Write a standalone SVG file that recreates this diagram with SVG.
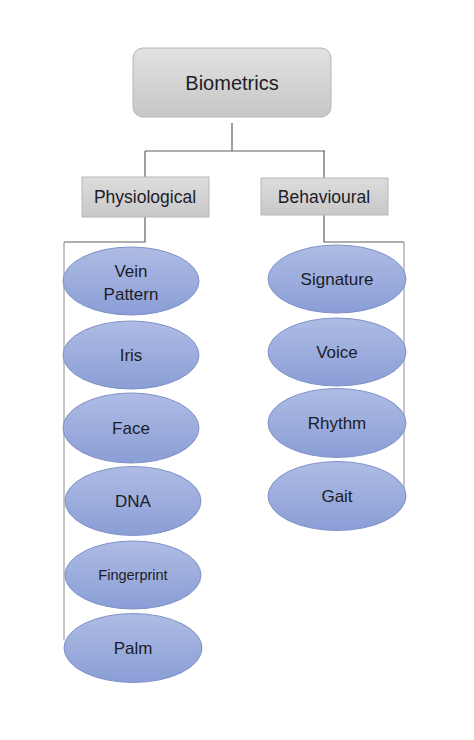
<svg xmlns="http://www.w3.org/2000/svg" width="474" height="740" viewBox="0 0 474 740">
<defs>
<linearGradient id="gRoot" x1="0" y1="0" x2="0" y2="1">
<stop offset="0" stop-color="#e2e2e2"/>
<stop offset="1" stop-color="#c6c6c6"/>
</linearGradient>
<linearGradient id="gCat" x1="0" y1="0" x2="0" y2="1">
<stop offset="0" stop-color="#dcdcdc"/>
<stop offset="1" stop-color="#c8c8c8"/>
</linearGradient>
<linearGradient id="gEll" x1="0" y1="0" x2="0" y2="1">
<stop offset="0" stop-color="#aebce4"/>
<stop offset="1" stop-color="#8a9ed6"/>
</linearGradient>
<style>
.root{fill:url(#gRoot);stroke:#b4b4b4;stroke-width:1}
.cat{fill:url(#gCat);stroke:#b8b8b8;stroke-width:1}
.ell{fill:url(#gEll);stroke:#7f91c8;stroke-width:1}
.t{font-family:"Liberation Sans",Arial,sans-serif;fill:#1c1c28;text-anchor:middle;font-size:17px}
.conn{fill:none;stroke:#5f5f5f;stroke-width:1.2}
.side{fill:none;stroke:#8c8c8c;stroke-width:1}
</style>
</defs>
<rect width="474" height="740" fill="#ffffff"/>
<g id="connectors">
<path class="conn" d="M232 123 V151 M145 151 H325 M145 151 V177 M324 151 V178"/>
<path class="conn" d="M145 217 V242 H64 M324 215 V242 H404"/>
<path class="side" d="M64 242 V640 M404 242 V490"/>
</g>
<g id="biometrics">
<rect class="root" x="133" y="48" width="198" height="69" rx="10"/>
<text class="t" x="232" y="90" style="font-size:20px">Biometrics</text>
</g>
<g id="physiological">
<rect class="cat" x="82" y="177" width="127" height="40"/>
<text class="t" x="145" y="203" style="font-size:17.5px">Physiological</text>
</g>
<g id="behavioural">
<rect class="cat" x="261" y="178" width="127" height="37"/>
<text class="t" x="324" y="203" style="font-size:17.5px">Behavioural</text>
</g>
<g id="vein-pattern">
<ellipse class="ell" cx="131" cy="281" rx="68" ry="34"/>
<text class="t" x="131" y="277">Vein</text>
<text class="t" x="131" y="300">Pattern</text>
</g>
<g id="iris">
<ellipse class="ell" cx="131" cy="355" rx="68" ry="34"/>
<text class="t" x="131" y="361">Iris</text>
</g>
<g id="face">
<ellipse class="ell" cx="131" cy="428" rx="68" ry="35"/>
<text class="t" x="131" y="434">Face</text>
</g>
<g id="dna">
<ellipse class="ell" cx="133" cy="501" rx="68" ry="34.5"/>
<text class="t" x="133" y="507">DNA</text>
</g>
<g id="fingerprint">
<ellipse class="ell" cx="133" cy="575" rx="68" ry="34"/>
<text class="t" x="133" y="580" style="font-size:14.5px">Fingerprint</text>
</g>
<g id="palm">
<ellipse class="ell" cx="133" cy="648" rx="69" ry="34.5"/>
<text class="t" x="133" y="654">Palm</text>
</g>
<g id="signature">
<ellipse class="ell" cx="337" cy="279" rx="69" ry="34"/>
<text class="t" x="337" y="285">Signature</text>
</g>
<g id="voice">
<ellipse class="ell" cx="337" cy="352" rx="69" ry="34"/>
<text class="t" x="337" y="358">Voice</text>
</g>
<g id="rhythm">
<ellipse class="ell" cx="337" cy="423" rx="69" ry="34.5"/>
<text class="t" x="337" y="429">Rhythm</text>
</g>
<g id="gait">
<ellipse class="ell" cx="337" cy="496" rx="69" ry="34.5"/>
<text class="t" x="337" y="502">Gait</text>
</g>
</svg>
